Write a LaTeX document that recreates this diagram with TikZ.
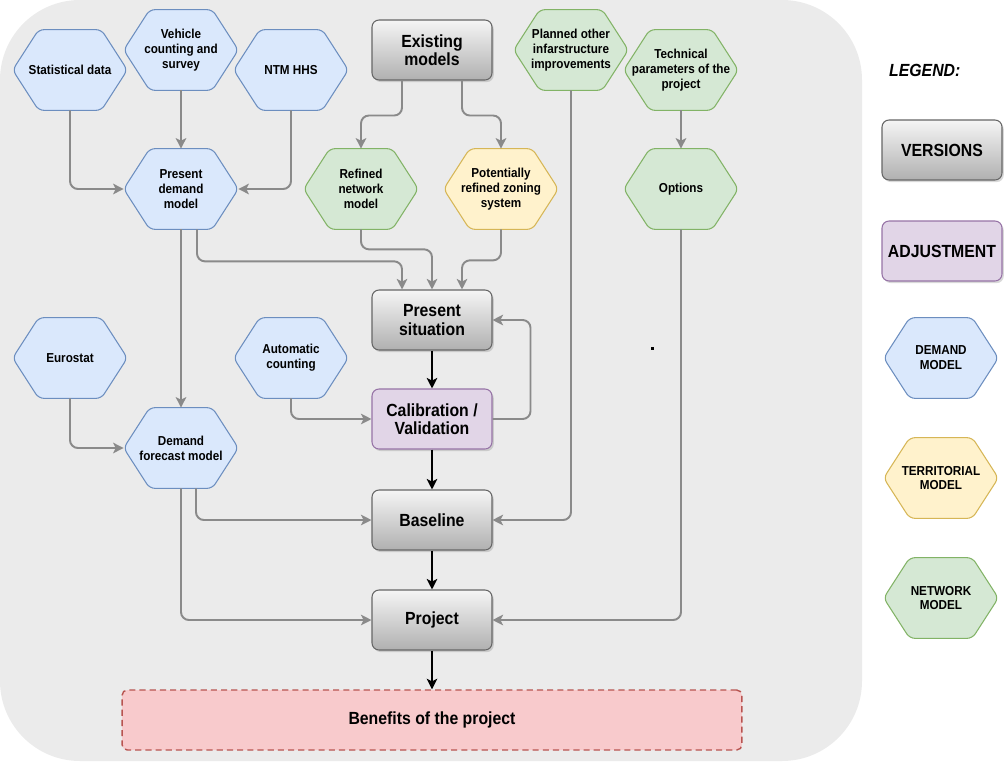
\documentclass[tikz,border=0pt]{standalone}
\usepackage{fontspec}
\setmainfont{Liberation Sans}[FakeStretch=0.9]
\usetikzlibrary{arrows.meta,shadows}
\definecolor{panel}{HTML}{EBEBEB}
\definecolor{wire}{HTML}{8A8A8A}
\definecolor{demandfill}{HTML}{DAE8FC}
\definecolor{demandline}{HTML}{6C8EBF}
\definecolor{terrfill}{HTML}{FFF2CC}
\definecolor{terrline}{HTML}{D6B656}
\definecolor{netfill}{HTML}{D5E8D4}
\definecolor{netline}{HTML}{82B366}
\definecolor{calibfill}{HTML}{E1D5E7}
\definecolor{calibline}{HTML}{9673A6}
\definecolor{benefitfill}{HTML}{F8CACC}
\definecolor{benefitline}{HTML}{B85450}
\definecolor{vertop}{HTML}{F5F5F5}
\definecolor{verbottom}{HTML}{B0B0B0}
\pgfdeclarelayer{back}
\pgfsetlayers{back,main}
\tikzset{
  hexbox/.style={minimum width=2.28cm,minimum height=1.6cm,inner sep=0pt,align=center,
    font=\fontsize{7.4}{8.5}\selectfont\bfseries},
  demand/.style={draw=demandline,fill=demandfill},
  territorial/.style={draw=terrline,fill=terrfill},
  network/.style={draw=netline,fill=netfill},
  bigbox/.style={rounded corners=4pt,minimum width=2.4cm,minimum height=1.2cm,align=center,
    line width=0.6pt,font=\fontsize{10}{10.4}\selectfont\bfseries,
    drop shadow={opacity=0.3,shadow xshift=1pt,shadow yshift=-1.2pt}},
  versionbox/.style={bigbox,draw=black!60,top color=vertop,bottom color=verbottom},
  calibbox/.style={bigbox,draw=calibline,fill=calibfill},
  benefitbox/.style={draw=benefitline,fill=benefitfill,dashed,dash pattern=on 3.5pt off 2.3pt,
    line width=0.8pt,rounded corners=3pt,minimum width=12.4cm,minimum height=1.2cm,
    font=\fontsize{10}{12}\selectfont\bfseries},
  flow/.style={wire,line width=1.1pt,rounded corners=4.5pt,
    -{Stealth[length=6pt,width=6pt,inset=1.5pt]}},
  mainflow/.style={black,line width=1.1pt,-{Stealth[length=6pt,width=6pt,inset=1.5pt]}}
}
% hexagon outline behind a hexbox node
\newcommand\hexframe[2]{%
  \begin{pgfonlayer}{back}
    \draw[#2,line width=0.6pt,rounded corners=3pt] (#1.west) -- ([xshift=0.52cm]#1.north west)
      -- ([xshift=-0.52cm]#1.north east) -- (#1.east) -- ([xshift=-0.52cm]#1.south east)
      -- ([xshift=0.52cm]#1.south west) -- cycle;
  \end{pgfonlayer}}

\begin{document}
\begin{tikzpicture}[x=0.02cm,y=-0.02cm]
  \useasboundingbox (0,0) rectangle (1004,761);
  \begin{pgfonlayer}{back}
    \fill[panel,rounded corners=1.6cm] (0,0) rectangle (862,761);
  \end{pgfonlayer}

  % inputs
  \node[hexbox] (stat) at (70,70) {Statistical data};
  \node[hexbox] (vehicle) at (181,50) {Vehicle\\counting and\\survey};
  \node[hexbox] (ntm) at (291,70) {NTM HHS};
  \node[hexbox] (pdm) at (181,189) {Present\\demand\\model};
  \node[versionbox] (existing) at (432,50) {Existing\\models};
  \node[hexbox] (refnet) at (361,189) {Refined\\network\\model};
  \node[hexbox] (zoning) at (501,189) {Potentially\\refined zoning\\system};
  \node[hexbox] (planned) at (571,50) {Planned other\\infarstructure\\improvements};
  \node[hexbox] (technical) at (681,70) {Technical\\parameters of the\\project};
  \node[hexbox] (options) at (681,189) {Options};
  \node[hexbox] (eurostat) at (70,358) {Eurostat};
  \node[hexbox] (autocount) at (291,358) {Automatic\\counting};
  \node[hexbox] (dfm) at (181,448) {Demand\\forecast model};

  % versions
  \node[versionbox] (present) at (432,320) {Present\\situation};
  \node[calibbox] (calib) at (432,419) {Calibration /\\Validation};
  \node[versionbox] (baseline) at (432,520) {Baseline};
  \node[versionbox] (project) at (432,620) {Project};
  \node[benefitbox] (benefits) at (432,720) {Benefits of the project};

  % legend
  \node[anchor=west,font=\fontsize{10}{12}\selectfont\bfseries\itshape] (legend) at (883,70) {LEGEND:};
  \node[versionbox] (versions) at (942,150) {VERSIONS};
  \node[calibbox] (adjustment) at (942,251) {ADJUSTMENT};
  \node[hexbox] (legdemand) at (941,358) {DEMAND\\MODEL};
  \node[hexbox] (legterr) at (941,478) {TERRITORIAL\\MODEL};
  \node[hexbox] (legnet) at (941,598) {NETWORK\\MODEL};

  \foreach \n/\s in {stat/demand,vehicle/demand,ntm/demand,pdm/demand,eurostat/demand,
      autocount/demand,dfm/demand,legdemand/demand,refnet/network,planned/network,
      technical/network,options/network,legnet/network,zoning/territorial,legterr/territorial}
    \hexframe{\n}{\s};

  % connectors
  \draw[flow] (stat.south) |- (pdm.west);
  \draw[flow] (vehicle.south) -- (pdm.north);
  \draw[flow] (ntm.south) |- (pdm.east);
  \draw[flow] ([xshift=-0.6cm]existing.south) -- ++(0,35) -| (refnet.north);
  \draw[flow] ([xshift=0.6cm]existing.south) -- ++(0,35) -| (zoning.north);
  \draw[flow] ([xshift=0.32cm]pdm.south) -- ++(0,32) -| ([xshift=-0.6cm]present.north);
  \draw[flow] (refnet.south) -- ++(0,20) -| (present.north);
  \draw[flow] (zoning.south) -- ++(0,31) -| ([xshift=0.6cm]present.north);
  \draw[flow] (pdm.south) -- (dfm.north);
  \draw[flow] (calib.east) -- ++(38,0) |- (present.east);
  \draw[flow] (autocount.south) |- (calib.west);
  \draw[flow] (eurostat.south) |- (dfm.west);
  \draw[flow] ([xshift=0.3cm]dfm.south) |- (baseline.west);
  \draw[flow] (dfm.south) |- (project.west);
  \draw[flow] (planned.south) |- (baseline.east);
  \draw[flow] (technical.south) -- (options.north);
  \draw[flow] (options.south) |- (project.east);
  \draw[mainflow] (present) -- (calib);
  \draw[mainflow] (calib) -- (baseline);
  \draw[mainflow] (baseline) -- (project);
  \draw[mainflow] (project) -- (benefits);

  \fill (650.5,346.5) rectangle (653.5,349.5);
\end{tikzpicture}
\end{document}
